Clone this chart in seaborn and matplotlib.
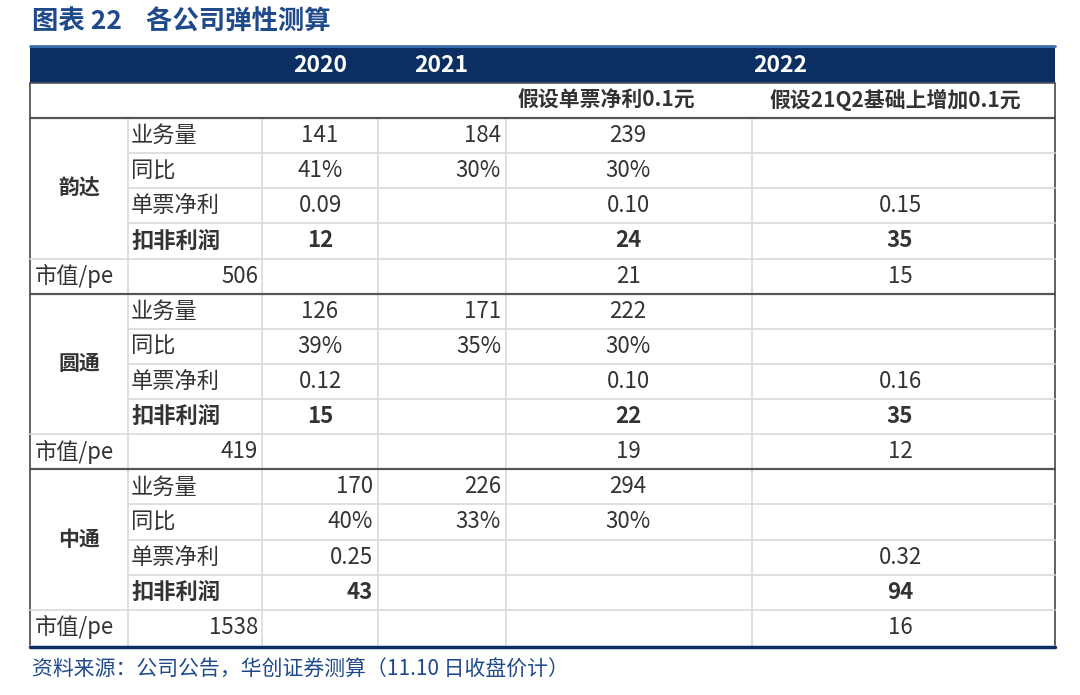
import matplotlib
matplotlib.use("Agg")
import matplotlib.pyplot as plt
import seaborn as sns

sns.set_theme(style="white", font="Noto Sans CJK SC")

title = "图表 22    各公司弹性测算"
source = "资料来源：公司公告，华创证券测算（11.10 日收盘价计）"
years = ["2020", "2021", "2022"]
sub_headers = ["假设单票净利0.1元", "假设21Q2基础上增加0.1元"]
companies = ["韵达", "圆通", "中通"]
metrics = ["业务量", "同比", "单票净利", "扣非利润"]
pe_label = "市值/pe"

# per company: rows = metrics, cols = 2020, 2021, 2022a, 2022b
yunda = [["141", "184", "239", ""], ["41%", "30%", "30%", ""],
         ["0.09", "", "0.10", "0.15"], ["12", "", "24", "35"]]
yto = [["126", "171", "222", ""], ["39%", "35%", "30%", ""],
       ["0.12", "", "0.10", "0.16"], ["15", "", "22", "35"]]
zto = [["170", "226", "294", ""], ["40%", "33%", "30%", ""],
       ["0.25", "", "", "0.32"], ["43", "", "", "94"]]
market_cap = ["506", "419", "1538"]
pe_2022a = ["21", "19", ""]
pe_2022b = ["15", "12", "16"]

navy = "#0B2F63"
txt = "#333333"
W, H = 1080, 695
fig = plt.figure(figsize=(W / 100, H / 100), dpi=100)
ax = fig.add_axes([0, 0, 1, 1])
ax.set_xlim(0, W)
ax.set_ylim(H, 0)
ax.axis("off")

ax.text(32, 22, title, fontsize=19, fontweight="bold", color="#1E4A8C", va="center")

L, R = 30, 1055
fs = 16
ax.fill_between([L, R], 47, 83, color=navy, lw=0)
ax.plot([L, R], [46, 46], color="#3F6FB0", lw=2)
for x, y in zip([320, 441, 780], years):
    ax.text(x, 65, y, color="white", fontsize=16.5, fontweight="bold", ha="center", va="center")
ax.text(606, 100, sub_headers[0], fontsize=15, fontweight="bold", color=txt, ha="center", va="center")
ax.text(895, 100, sub_headers[1], fontsize=15, fontweight="bold", color=txt, ha="center", va="center")

top = 118
rh = 35.13
grey = "#D9D9D9"
dark = "#555555"
cols = [128, 262, 378, 506, 752]
bottom = top + 15 * rh

for c in cols[1:]:
    ax.plot([c, c], [top, bottom], color=grey, lw=1.2)
for g in range(3):
    y0 = top + g * 5 * rh
    ax.plot([128, 128], [y0, y0 + 5 * rh], color=grey, lw=1.2)
ax.plot([L, L], [83, bottom], color=dark, lw=1.3)
ax.plot([R, R], [83, bottom], color=dark, lw=1.3)

data = [yunda, yto, zto]
for g in range(3):
    y0 = top + g * 5 * rh
    ax.plot([L, R], [y0, y0], color=dark, lw=1.6)
    ax.text(79, y0 + 2 * rh, companies[g], fontsize=15, fontweight="bold", color=txt, ha="center", va="center")
    for i in range(4):
        yc = y0 + (i + 0.5) * rh
        if i > 0:
            ax.plot([128, R], [y0 + i * rh] * 2, color=grey, lw=1.2)
        bold = "bold" if i == 3 else "normal"
        ax.text(131, yc, metrics[i], fontsize=fs, fontweight=bold, color=txt, ha="left", va="center")
        vals = data[g][i]
        if g == 2:
            ax.text(373, yc, vals[0], fontsize=fs, fontweight=bold, color=txt, ha="right", va="center")
        else:
            ax.text(320, yc, vals[0], fontsize=fs, fontweight=bold, color=txt, ha="center", va="center")
        ax.text(501, yc, vals[1], fontsize=fs, fontweight=bold, color=txt, ha="right", va="center")
        ax.text(628, yc, vals[2], fontsize=fs, fontweight=bold, color=txt, ha="center", va="center")
        ax.text(900, yc, vals[3], fontsize=fs, fontweight=bold, color=txt, ha="center", va="center")
    ypl = y0 + 4 * rh
    ax.plot([L, R], [ypl, ypl], color=grey, lw=1.2)
    yc = ypl + 0.5 * rh
    ax.text(35, yc, pe_label, fontsize=fs, color=txt, ha="left", va="center")
    ax.text(258, yc, market_cap[g], fontsize=fs, color=txt, ha="right", va="center")
    ax.text(628, yc, pe_2022a[g], fontsize=fs, color=txt, ha="center", va="center")
    ax.text(900, yc, pe_2022b[g], fontsize=fs, color=txt, ha="center", va="center")

ax.plot([L, R], [83, 83], color=dark, lw=1.2)
ax.plot([L, R], [bottom + 2, bottom + 2], color=navy, lw=2.5)
ax.text(32, 670, source, fontsize=15, style="italic", color="#1E4A8C", va="center")

fig.savefig("out.png", dpi=100)
